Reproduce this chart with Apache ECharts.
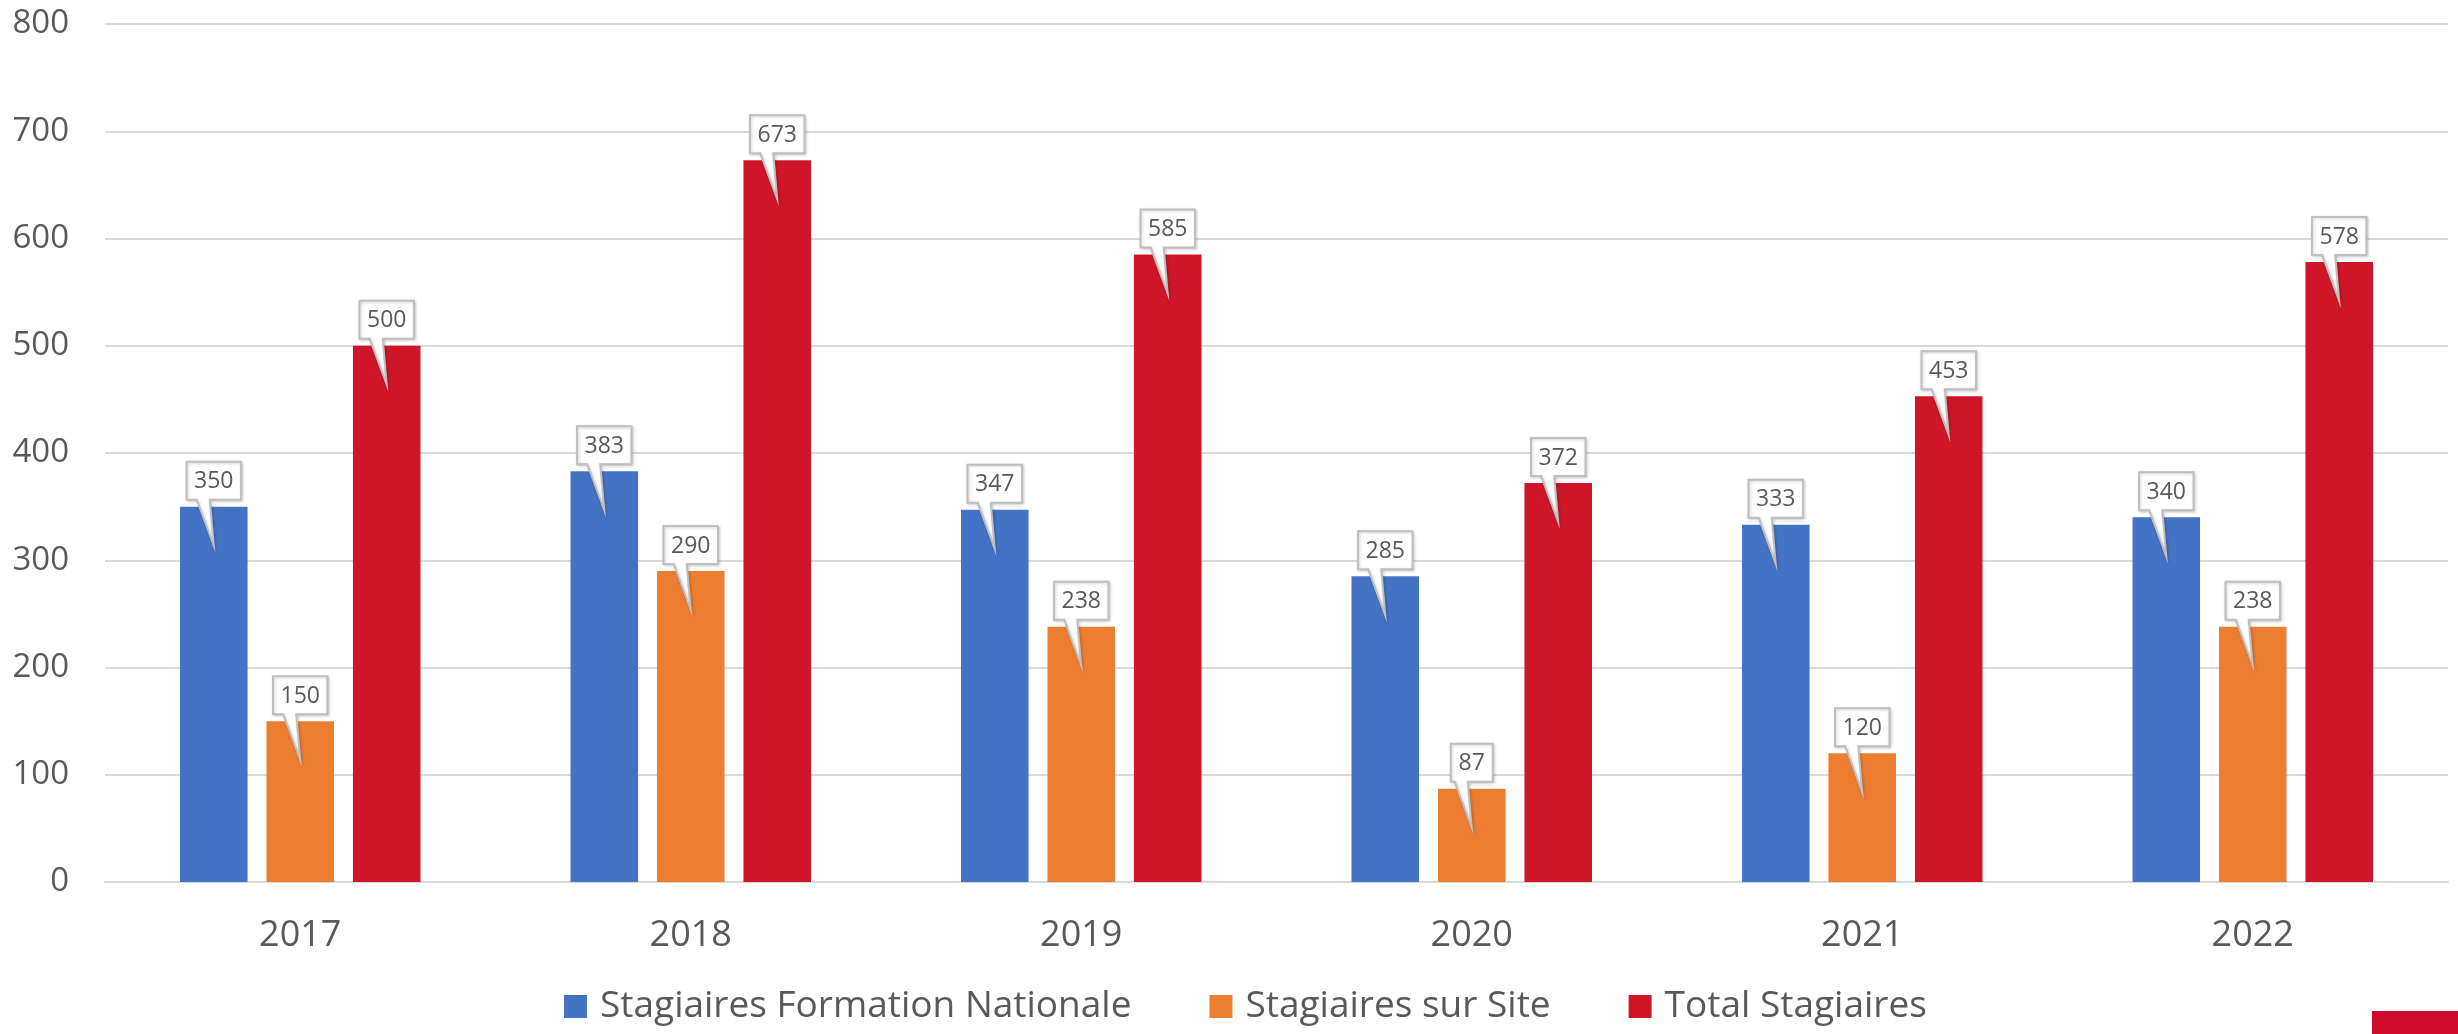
<!DOCTYPE html>
<html>
<head>
<meta charset="utf-8">
<title>Stagiaires</title>
<script src="https://cdn.jsdelivr.net/npm/echarts@6/dist/echarts.min.js"></script>
<style>
    html, body { margin: 0; padding: 0; background: #fff; }
    #chart { width: 2458px; height: 1034px; }
</style>
</head>
<body>
<div id="chart"></div>
<script>
"use strict";
var years = ["2017", "2018", "2019", "2020", "2021", "2022"];
var seriesNames = ["Stagiaires Formation Nationale", "Stagiaires sur Site", "Total Stagiaires"];
var nationale = [350, 383, 347, 285, 333, 340];
var surSite = [150, 290, 238, 87, 120, 238];
var total = [500, 673, 585, 372, 453, 578];
var yMin = 0, yMax = 800, yStep = 100;

var colors = ["#4472C4", "#ED7D31", "#CE1628"];
var textColor = "#595959";
var font = "'Open Sans', 'Noto Sans', sans-serif";
var BAR_RATIO = 0.173;   // bar width / category band
var GAP_RATIO = 0.28;    // gap between bars / bar width

var chart = echarts.init(document.getElementById("chart"));

/**
 * bulle de valeur (box + pointer) above each bar
 */
function calloutItem(seriesIdx) {
    return function (params, api) {
        var cat = api.value(0), val = api.value(1);
        var pt = api.coord([cat, val]);
        var band = api.size([1, 0])[0];
        var bw = band * BAR_RATIO;
        var cx = pt[0] + (seriesIdx - 1) * bw * (1 + GAP_RATIO);
        var y0 = pt[1];
        var txt = String(val);
        var w = txt.length * 12.5 + 17;
        var h = 38;
        var B = y0 - 7, T = B - h, L = cx - w / 2, R = cx + w / 2;
        return {
            type: "group",
            children: [
                {
                    type: "polygon",
                    shape: { points: [[L, T], [R, T], [R, B], [cx - 4, B], [cx, y0 + 39], [cx - 17, B], [L, B]] },
                    style: { fill: "#fff", stroke: "#bfbfbf", lineWidth: 2,
                             shadowBlur: 3, shadowColor: "rgba(0,0,0,0.18)", shadowOffsetX: 1, shadowOffsetY: 1 }
                },
                {
                    type: "text",
                    style: { text: txt, x: cx, y: (T + B) / 2 + 1, align: "center", verticalAlign: "middle",
                             fill: textColor, fontSize: 23, fontFamily: font }
                }
            ]
        };
    };
}

var barData = [nationale, surSite, total];
var series = [];
barData.forEach(function (vals, i) {
    series.push({
        name: seriesNames[i], type: "bar", data: vals,
        barWidth: (BAR_RATIO * 100) + "%", barGap: (GAP_RATIO * 100) + "%",
        itemStyle: { color: colors[i] }, z: 2
    });
});
barData.forEach(function (vals, i) {
    series.push({
        name: "callout" + i, type: "custom", z: 5, silent: true,
        renderItem: calloutItem(i),
        encode: { x: 0, y: 1 },
        data: vals.map(function (v, k) { return [k, v]; })
    });
});

var option = {
    animation: false,
    backgroundColor: "#fff",
    textStyle: { fontFamily: font },
    grid: { left: 105, right: 10, top: 24, bottom: 152 },
    legend: {
        data: seriesNames, bottom: 4, left: 559,
        icon: "rect", itemWidth: 23, itemHeight: 23, itemGap: 78,
        textStyle: { fontSize: 37, color: textColor, fontFamily: font, padding: [0, 0, 0, 8] }
    },
    xAxis: {
        type: "category", data: years,
        axisLine: { lineStyle: { color: "#d9d9d9", width: 2 } },
        axisTick: { show: false },
        axisLabel: { fontSize: 36, color: textColor, margin: 36 }
    },
    yAxis: {
        type: "value", min: yMin, max: yMax, interval: yStep,
        axisLine: { show: false }, axisTick: { show: false },
        axisLabel: { fontSize: 33, color: textColor, margin: 36 },
        splitLine: { lineStyle: { color: "#d9d9d9", width: 2 } }
    },
    graphic: [{
        type: "rect", right: 0, bottom: 0,
        shape: { width: 86, height: 23 },
        style: { fill: "#CF0A2C" }
    }],
    series: series
};
chart.setOption(option);
</script>
</body>
</html>
